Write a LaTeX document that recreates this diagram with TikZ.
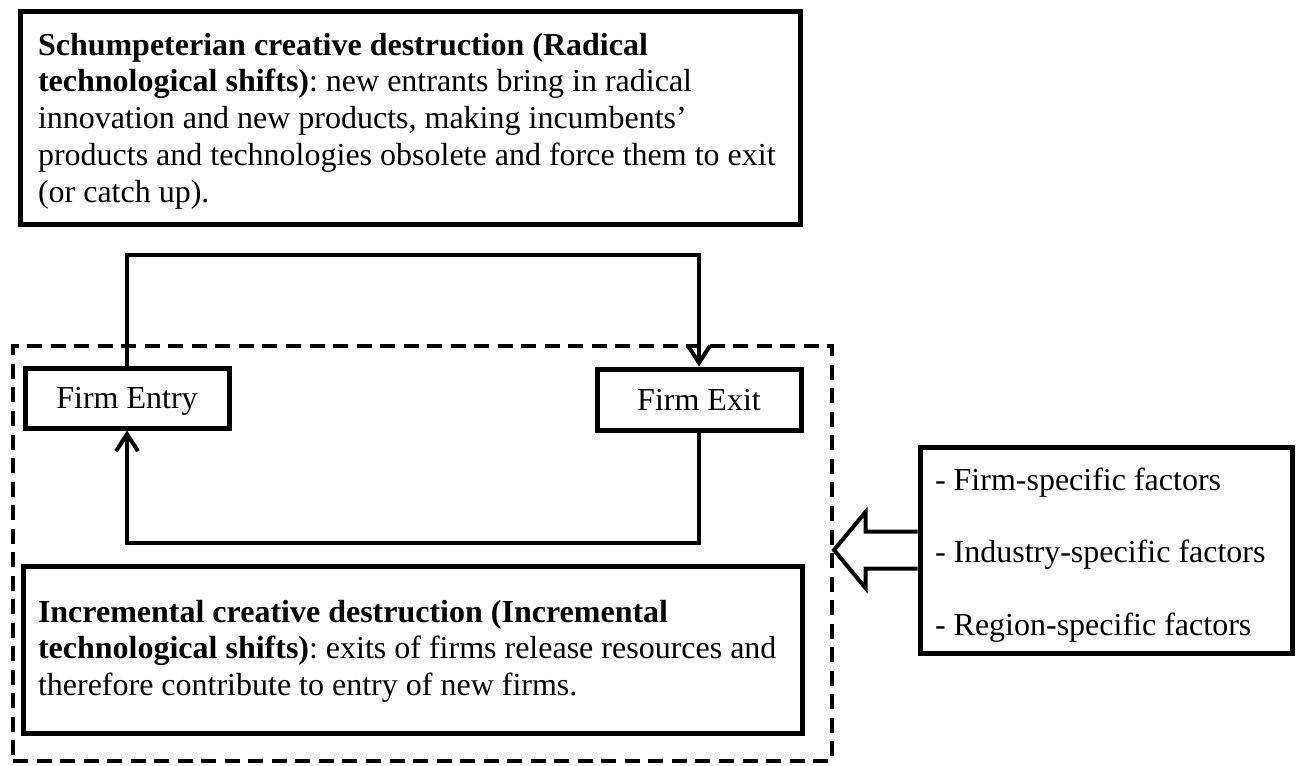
\documentclass[tikz,border=0pt]{standalone}
\usepackage{fontspec}
\setmainfont{Liberation Serif}
\usetikzlibrary{arrows.meta,calc}
\begin{document}
\frenchspacing
\begin{tikzpicture}[x=0.75pt,y=-0.75pt,
  box/.style={draw, line width=3.75pt, rectangle, inner sep=0pt},
  txt/.style={font=\fontsize{24pt}{27.6pt}\selectfont\frenchspacing},
  firm/.style={box, txt, minimum width=153pt, text height=16.3pt, text depth=0pt},
  conn/.style={line width=3pt, line join=miter},
  barb/.style={-{Straight Barb[length=12.75pt,width=16.5pt]}},
  groupbox/.style={draw, line width=3pt, dash pattern=on 11.25pt off 6.4pt, rectangle, inner sep=0pt},
  hollow/.style={line width=3pt, fill=white, line join=miter}]
\useasboundingbox (0,0) rectangle (1301,765);

% dashed group box
\node[groupbox, minimum width=614.25pt, minimum height=311.25pt] (group) at (422.5,553.5) {};

% top box
\node[box, txt, minimum width=585pt, minimum height=159.75pt, text width=558pt, inner xsep=13.5pt, align=flush left] (schump) at (410,117.5)
 {\rule{0pt}{21.9pt}\textbf{Schumpeterian creative destruction (Radical}\\
  \textbf{technological shifts)}: new entrants bring in radical\\
  innovation and new products, making incumbents’\\
  products and technologies obsolete and force them to exit\\
  (or catch up).};

% firm boxes
\node[firm, minimum height=45pt] (entry) at (127,398) {Firm Entry};
\node[firm, minimum height=45.75pt] (exit) at (699,399.5) {Firm Exit};

% incremental box
\node[box, txt, minimum width=584.25pt, minimum height=125.25pt, text width=561.75pt, inner xsep=11.25pt, align=flush left] (incr) at (412.5,649.5)
 {\rule{0pt}{19.2pt}\textbf{Incremental creative destruction (Incremental}\\
  \textbf{technological shifts)}: exits of firms release resources and\\
  therefore contribute to entry of new firms.};

% factors box
\node[box, minimum width=279pt, minimum height=154.5pt, text width=256.5pt, inner xsep=11.25pt, align=flush left, font=\fontsize{24pt}{54.4pt}\selectfont\frenchspacing] (factors) at (1106,550)
 {\rule{0pt}{24pt}- Firm-specific factors\\
  - Industry-specific factors\\
  - Region-specific factors};

% loop connectors
\coordinate (looptop) at (400,255);
\coordinate (loopbot) at (400,543);
\draw[conn, barb] (entry.north) |- (looptop) -| (exit.north);
\draw[conn, barb] (exit.south) |- (loopbot) -| (entry.south);

% hollow arrow from factors to group
\coordinate (tip) at (factors.west -| group.east);
\draw[hollow] ($(factors.west)+(0,-18.5)$) -- ($(factors.west)+(-52,-18.5)$) -- ($(factors.west)+(-52,-38)$) -- (tip)
  -- ($(factors.west)+(-52,38)$) -- ($(factors.west)+(-52,18.5)$) -- ($(factors.west)+(0,18.5)$);
\end{tikzpicture}
\end{document}
